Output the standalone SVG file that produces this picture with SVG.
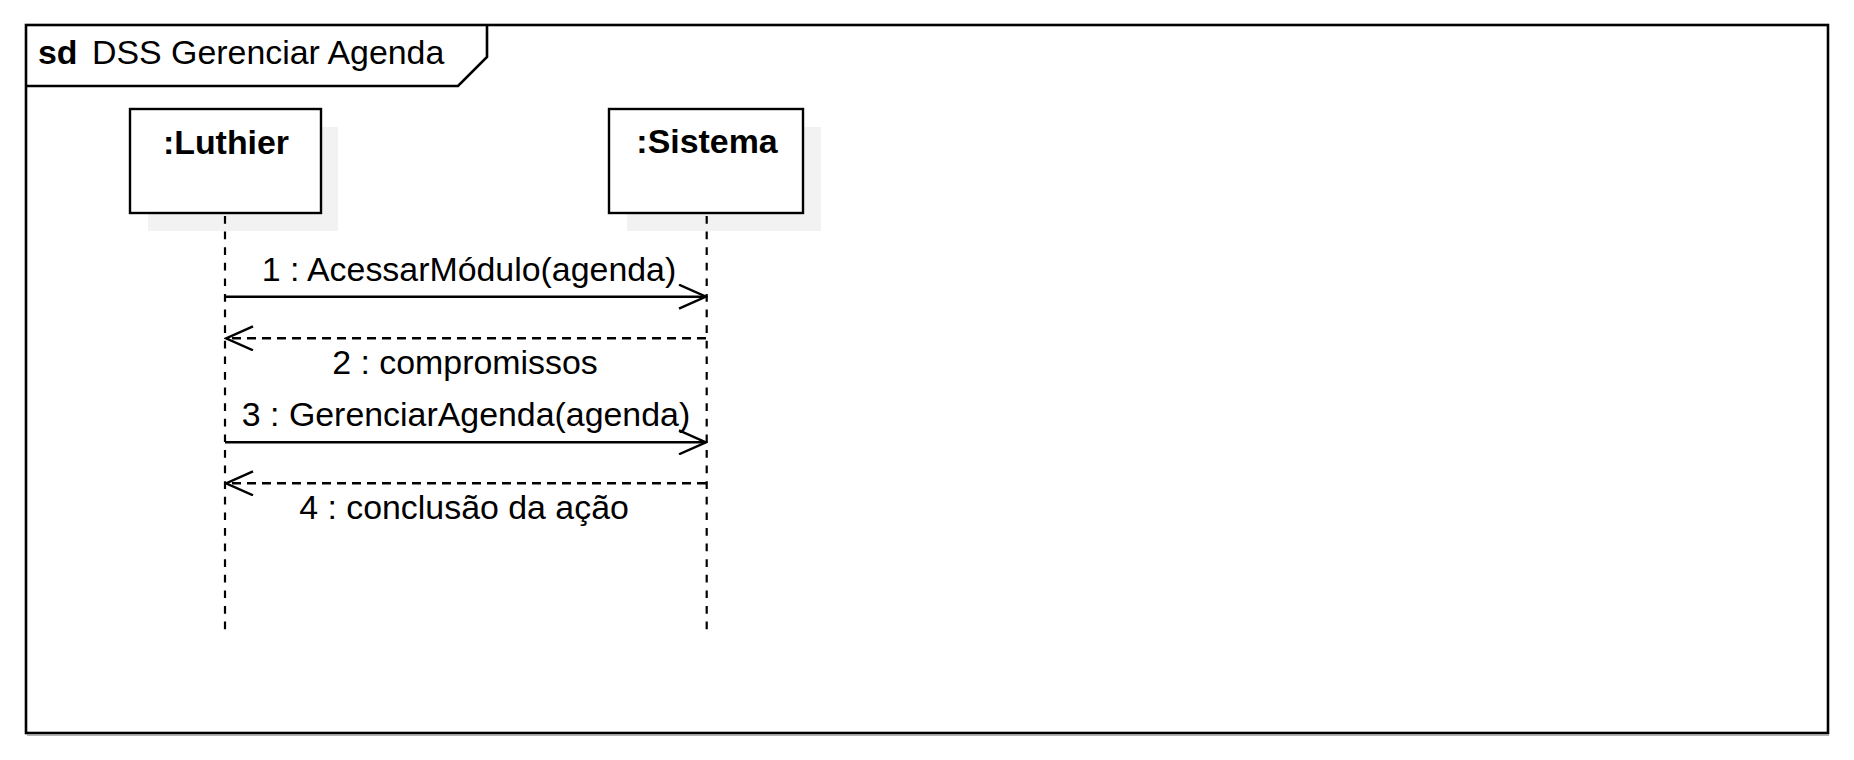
<svg xmlns="http://www.w3.org/2000/svg" width="1854" height="760" viewBox="0 0 1854 760">
<defs>
<style>
text{font-family:"Liberation Sans",Arial,sans-serif;font-size:33.9px;fill:#000}
.b{font-weight:bold}
.box{fill:#fff;stroke:#000;stroke-width:2.4}
.sh{fill:#f2f2f2;stroke:none}
.life{stroke:#000;stroke-width:2.2;stroke-dasharray:7.7 7.9;fill:none}
.msg{stroke:#000;stroke-width:2.4;fill:none}
.ret{stroke:#000;stroke-width:2.4;stroke-dasharray:9 6;fill:none}
</style>
<marker id="open" viewBox="0 0 30 26" refX="28" refY="13" markerWidth="30" markerHeight="26" markerUnits="userSpaceOnUse" orient="auto-start-reverse">
<path d="M1,1 L28,13 L1,25" fill="none" stroke="#000" stroke-width="2.4"/>
</marker>
</defs>
<rect x="0" y="0" width="1854" height="760" fill="#fff"/>
<g id="frame">
<rect x="26" y="25" width="1802" height="708" fill="none" stroke="#000" stroke-width="2.6"/>
<line x1="27" y1="735" x2="1829" y2="735" stroke="#999" stroke-width="1.5"/>
<path d="M26,86 L458,86 L487,57 L487,25" fill="none" stroke="#000" stroke-width="2.6"/>
<text class="b" x="38" y="64">sd</text>
<text x="92" y="64">DSS Gerenciar Agenda</text>
</g>
<g id="luthier">
<rect class="sh" x="148" y="127" width="190" height="104"/>
<rect class="box" x="130" y="109" width="191" height="104"/>
<text class="b" x="226" y="154" text-anchor="middle">:Luthier</text>
<line class="life" x1="225" y1="216" x2="225" y2="629.5"/>
</g>
<g id="sistema">
<rect class="sh" x="627" y="127" width="194" height="104"/>
<rect class="box" x="609" y="109" width="194" height="104"/>
<text class="b" x="707" y="153" text-anchor="middle">:Sistema</text>
<line class="life" x1="706.7" y1="216" x2="706.7" y2="629.5"/>
</g>
<g id="connectors">
<line class="msg" x1="225" y1="296.7" x2="706" y2="296.7" marker-end="url(#open)"/>
<text x="469" y="281" text-anchor="middle">1 : AcessarMódulo(agenda)</text>
<line class="ret" x1="706" y1="338.3" x2="226" y2="338.3" marker-end="url(#open)"/>
<text x="465" y="374" text-anchor="middle">2 : compromissos</text>
<line class="msg" x1="225" y1="442.3" x2="706" y2="442.3" marker-end="url(#open)"/>
<text x="466" y="426" text-anchor="middle">3 : GerenciarAgenda(agenda)</text>
<line class="ret" x1="706" y1="483.3" x2="226" y2="483.3" marker-end="url(#open)"/>
<text x="464" y="519" text-anchor="middle">4 : conclusão da ação</text>
</g>
</svg>
